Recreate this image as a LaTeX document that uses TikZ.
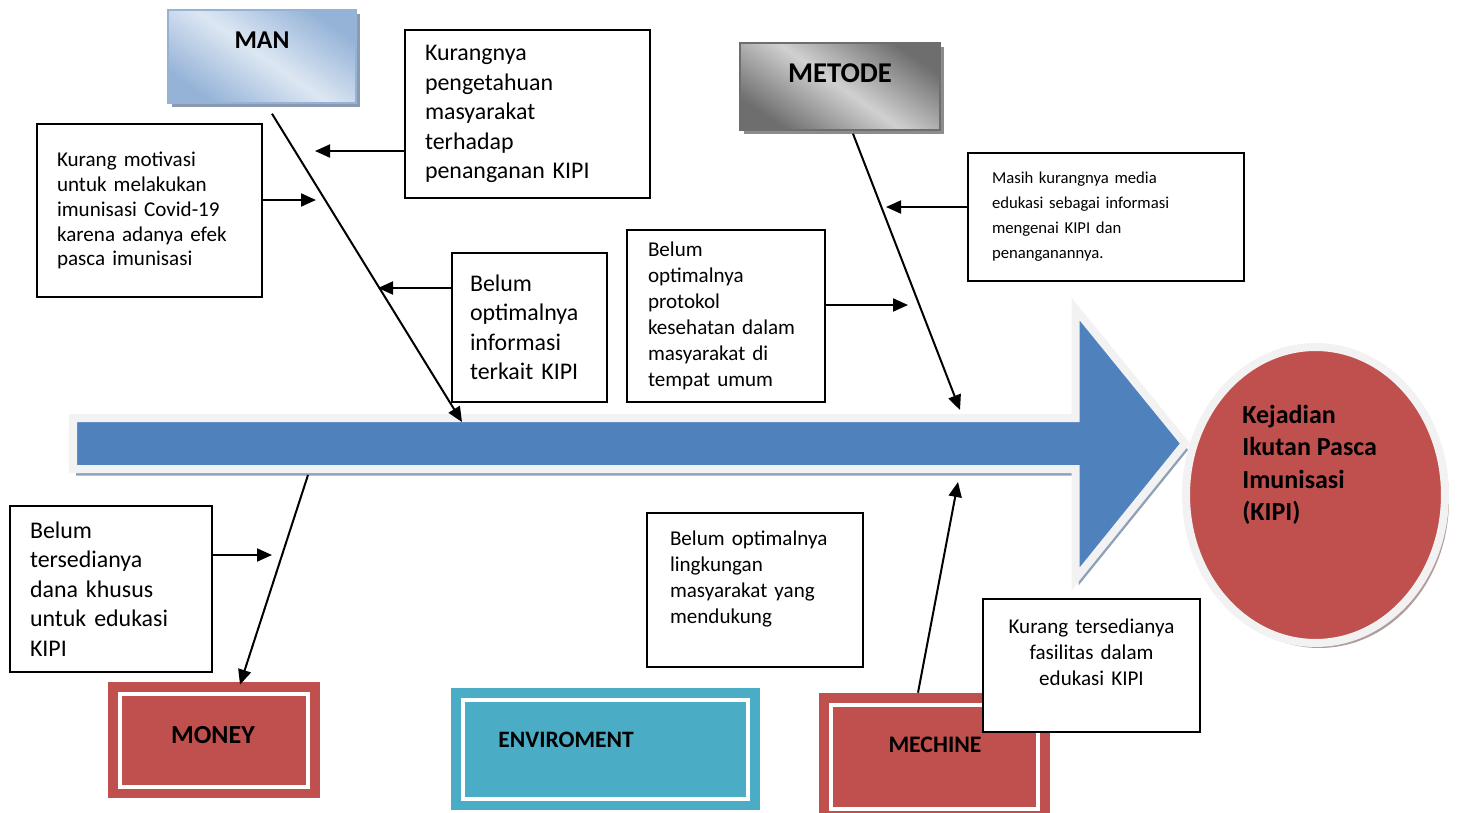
\documentclass[tikz,border=0pt]{standalone}
\usepackage{fontspec}
\setmainfont{Carlito}
\usetikzlibrary{arrows.meta,positioning,shapes.geometric,shadows}
\definecolor{fishblue}{HTML}{4F81BD}
\definecolor{rimgray}{HTML}{F2F2F2}
\definecolor{spineshadow}{HTML}{8FA1BA}
\definecolor{kipired}{HTML}{C0504D}
\definecolor{kipishadow}{HTML}{B39C9C}
\definecolor{envteal}{HTML}{4BACC6}
\definecolor{mandark}{HTML}{95B3D7}
\definecolor{manlight}{HTML}{DDE7F3}
\definecolor{manshadow}{HTML}{8B9AB0}
\definecolor{metdark}{HTML}{6E6E6E}
\definecolor{metlight}{HTML}{D0D0D0}
\definecolor{metshadow}{HTML}{8C8C8C}
\tikzset{
  spine/.style={fill=fishblue,draw=rimgray,line width=0.16cm,line join=miter,
                drop shadow={shadow xshift=0.06cm,shadow yshift=-0.13cm,fill=spineshadow,opacity=1}},
  effect/.style={ellipse,fill=kipired,draw=rimgray,line width=0.16cm,inner sep=0pt,
                 minimum width=5.18cm,minimum height=5.92cm,
                 drop shadow={shadow xshift=0.08cm,shadow yshift=-0.1cm,fill=kipishadow,opacity=1}},
  gradbox/.style n args={3}{line width=0.03cm,inner sep=0pt,draw=#1,
                  top color=#1,bottom color=#1,middle color=#2,shading angle=-35,
                  drop shadow={shadow xshift=0.08cm,shadow yshift=-0.08cm,fill=#3,opacity=1}},
  catframe/.style={fill=#1,draw=none,inner sep=0pt,
                   path picture={\draw[white,line width=0.08cm]
                     ([shift={(0.23cm,-0.23cm)}]path picture bounding box.north west) rectangle
                     ([shift={(-0.23cm,0.23cm)}]path picture bounding box.south east);}},
  cause/.style={draw=black,fill=white,line width=0.04cm,align=left,inner ysep=0pt,inner xsep=0.4cm},
  bigtxt/.style={font=\fontsize{13.6pt}{16.8pt}\selectfont},
  midtxt/.style={font=\fontsize{12pt}{14.8pt}\selectfont},
  smalltxt/.style={font=\fontsize{12pt}{14.2pt}\selectfont},
  tinytxt/.style={font=\fontsize{9.5pt}{14.2pt}\selectfont},
  cattitle/.style={font=\bfseries\fontsize{#1}{#1}\selectfont,inner sep=0pt},
  bone/.style={-{Triangle[length=3mm,width=2.6mm]},line width=0.04cm}
}
\begin{document}
\begin{tikzpicture}[x=0.02cm,y=-0.02cm]
  \useasboundingbox[fill=white] (0,0) rectangle (1461,812);
  % head and spine
  \path[spine] (73,418) -- (1075.5,418) -- (1075.5,309) -- (1185,443.5)
    -- (1075.5,579) -- (1075.5,469) -- (73,469) -- cycle;
  \node[effect] (kipi) at (1315.5,495) {};
  \node[cattitle=14.8pt,font=\bfseries\fontsize{14.8pt}{18.4pt}\selectfont,align=left,anchor=west]
    (kipi-t) at (1242,465) {Kejadian\\Ikutan Pasca\\Imunisasi\\(KIPI)};
  % categories
  \node[gradbox={mandark}{manlight}{manshadow},minimum width=3.76cm,minimum height=1.86cm] (man) at (262,56.5) {};
  \node[cattitle=14.6pt] (man-t) at (262,40) {MAN};
  \node[gradbox={metdark}{metlight}{metshadow},minimum width=4cm,minimum height=1.74cm] (metode) at (840,86.5) {};
  \node[cattitle=16.3pt] (metode-t) at (840,73) {METODE};
  \node[catframe=kipired,minimum width=4.24cm,minimum height=2.32cm] (money) at (214,740) {};
  \node[cattitle=14.8pt] (money-t) at (213,735) {MONEY};
  \node[catframe=envteal,minimum width=6.18cm,minimum height=2.44cm] (env) at (605.5,749) {};
  \node[cattitle=13.4pt,anchor=west] (env-t) at (498,740) {ENVIROMENT};
  \node[catframe=kipired,minimum width=4.62cm,minimum height=2.54cm] (mech) at (934.5,756.5) {};
  \node[cattitle=13.5pt] (mech-t) at (935,745) {MECHINE};
  % causes
  \node[cause,bigtxt,minimum width=4.9cm,minimum height=3.36cm,text width=4.1cm] (kp) at (527.5,114)
    {Kurangnya\\pengetahuan\\masyarakat\\terhadap\\penanganan KIPI};
  \node[cause,smalltxt,minimum width=4.5cm,minimum height=3.46cm,text width=3.7cm] (km) at (149.5,210.5)
    {Kurang motivasi\\untuk melakukan\\imunisasi Covid-19\\karena adanya efek\\pasca imunisasi};
  \node[cause,bigtxt,inner xsep=0.36cm,minimum width=3.1cm,minimum height=2.98cm,text width=2.38cm] (oi) at (529.5,327.5)
    {Belum\\optimalnya\\informasi\\terkait KIPI};
  \node[cause,midtxt,inner xsep=0.42cm,minimum width=3.96cm,minimum height=3.44cm,text width=3.12cm] (op) at (726,316)
    {Belum\\optimalnya\\protokol\\kesehatan dalam\\masyarakat di\\tempat umum};
  \node[cause,tinytxt,inner xsep=0.48cm,minimum width=5.52cm,minimum height=2.56cm,text width=4.56cm] (mk) at (1106,217)
    {Masih kurangnya media\\edukasi sebagai informasi\\mengenai KIPI dan\\penanganannya.};
  \node[cause,bigtxt,minimum width=4.04cm,minimum height=3.32cm,text width=3.24cm] (dk) at (111,589)
    {Belum\\tersedianya\\dana khusus\\untuk edukasi\\KIPI};
  \node[cause,midtxt,inner xsep=0.46cm,minimum width=4.32cm,minimum height=3.08cm,text width=3.4cm] (lk) at (755,590)
    {Belum optimalnya\\lingkungan\\masyarakat yang\\mendukung\\ \mbox{}};
  \node[cause,midtxt,align=center,inner xsep=0.2cm,minimum width=4.34cm,minimum height=2.66cm,text width=3.94cm] (fk) at (1091.5,665.5)
    {Kurang tersedianya\\fasilitas dalam\\edukasi KIPI\\ \mbox{}};
  % bones
  \coordinate (manS) at (462,422);
  \coordinate (metS) at (960,410);
  \coordinate (monS) at (308,475);
  \coordinate (mecS) at (958,482);
  \draw[bone] ([xshift=0.2cm,yshift=-0.2cm]man.south) -- (manS);
  \draw[bone] ([xshift=0.26cm,yshift=-0.06cm]metode.south) -- (metS);
  \draw[bone] (monS) -- ([xshift=0.52cm,yshift=-0.06cm]money.north);
  \draw[bone] ([xshift=-0.33cm]mech.north) -- (mecS);
  \coordinate (a1) at (315,151);
  \coordinate (a2) at (316,200);
  \coordinate (a3) at (378,288);
  \coordinate (a4) at (908,305);
  \coordinate (a5) at (886,207);
  \coordinate (a6) at (272,555);
  \draw[bone] (kp.west |- a1) -- (a1);
  \draw[bone] (km.east |- a2) -- (a2);
  \draw[bone] (oi.west |- a3) -- (a3);
  \draw[bone] (op.east |- a4) -- (a4);
  \draw[bone] (mk.west |- a5) -- (a5);
  \draw[bone] (dk.east |- a6) -- (a6);
\end{tikzpicture}
\end{document}
